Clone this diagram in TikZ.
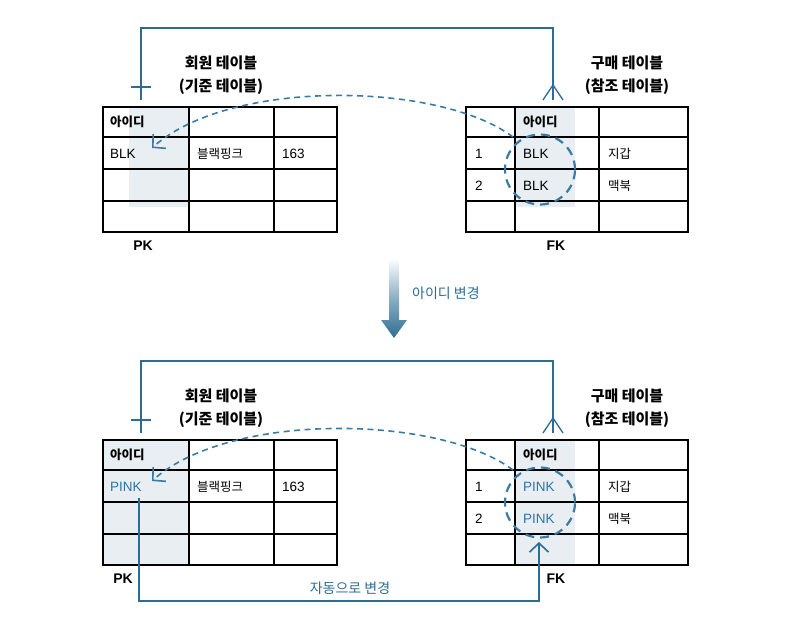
\documentclass[tikz,border=0pt]{standalone}
\usepackage{fontspec}
\setmainfont{Liberation Sans}
\newfontfamily\kr{Noto Sans CJK KR}
\usetikzlibrary{arrows.meta}
\definecolor{conn}{HTML}{2E6D93}
\definecolor{dashc}{HTML}{3A7BA3}
\definecolor{shadec}{HTML}{E9EEF3}
\definecolor{idblue}{HTML}{2C74A6}
\tikzset{
  tbl/.style={line width=1.9pt, black},
  grid/.style={line width=1.3pt, black},
  conline/.style={line width=1.3pt, conn},
  dcurve/.style={line width=1.6pt, dashc, dash pattern=on 6pt off 4.5pt},
  dcirc/.style={line width=2.2pt, dashc, dash pattern=on 9pt off 6pt},
  cell/.style={anchor=west, inner sep=0pt, font=\fontsize{13.5}{15}\selectfont},
  krcell/.style={anchor=west, inner sep=0pt, font=\kr\fontsize{12.5}{14}\selectfont},
  krhead/.style={anchor=west, inner sep=0pt, font=\kr\bfseries\fontsize{12.5}{14}\selectfont},
  title/.style={inner sep=0pt, font=\kr\bfseries\fontsize{15}{17}\selectfont},
  keylab/.style={inner sep=0pt, font=\bfseries\fontsize{14}{16}\selectfont},
  note/.style={inner sep=0pt, text=conn, font=\kr\fontsize{14}{16}\selectfont},
  barb/.style={-{Straight Barb[length=9pt,width=19pt,line width=1.6pt]}},
}
% #1 id text, #2 shade left x, #3 shade bottom y, #4 id colour, #5 PK x
\newcommand\dbpanel[5]{%
  \fill[shadec] (#2,107) rectangle (189,#3);
  \fill[shadec] (515,107) rectangle (575,#3);
  % left table
  \draw[grid] (103,137) -- (337,137) (103,169) -- (337,169) (103,201) -- (337,201);
  \draw[grid] (189,107) -- (189,232) (274,107) -- (274,232);
  \draw[tbl] (103,107) rectangle (337,232);
  % right table
  \draw[grid] (466,137) -- (688,137) (466,169) -- (688,169) (466,201) -- (688,201);
  \draw[grid] (515,107) -- (515,232) (599,107) -- (599,232);
  \draw[tbl] (466,107) rectangle (688,232);
  % texts
  \node[krhead] (lid) at (110,122) {아이디};
  \node[cell, text=#4] (lval) at (110,153.5) {#1};
  \node[krcell] (lname) at (197,153.5) {블랙핑크};
  \node[cell] (lnum) at (282,153.5) {163};
  \node[krhead] (rid) at (523,122) {아이디};
  \node[cell] (r1) at (475,153.5) {1};
  \node[cell, text=#4] (rv1) at (523,153.5) {#1};
  \node[krcell] (rn1) at (608,153.5) {지갑};
  \node[cell] (r2) at (475,185.5) {2};
  \node[cell, text=#4] (rv2) at (523,185.5) {#1};
  \node[krcell] (rn2) at (608,185.5) {맥북};
  \node[title] (lt1) at (221,63) {회원 테이블};
  \node[title] (lt2) at (221,87) {(기준 테이블)};
  \node[title] (rt1) at (627,63) {구매 테이블};
  \node[title] (rt2) at (627,87) {(참조 테이블)};
  \node[keylab] (pk) at (#5,246) {PK};
  \node[keylab] (fk) at (556,246) {FK};
  % relation connector
  \coordinate (cl) at (141,100);
  \coordinate (cr) at (553,100);
  \coordinate (crow) at (553,85);
  \draw[conline] (cl) -- (141,28) -| (cr);
  \draw[conline] (131,87) -- (151,87);
  \draw[conline] (543,100) -- (crow) -- (563,100);
  % dashed reference curve
  \node[draw=dashc, dcirc, circle, minimum size=70pt, inner sep=0pt] (circ) at (540,169.5) {};
  \coordinate (ds) at (513,137);
  \coordinate (de) at (152,148);
  \draw[dcurve, barb] (ds) .. controls (440,82) and (230,78) .. (de);
}
\begin{document}
\begin{tikzpicture}[x=1pt,y=-1pt]
\useasboundingbox (0,0) rectangle (791,618);
\begin{scope}[name prefix=t-]
  \dbpanel{BLK}{129}{207}{black}{143}
\end{scope}
\begin{scope}[yshift=-333pt, name prefix=b-]
  \dbpanel{PINK}{103}{232}{idblue}{123}
  \coordinate (pa) at (139,165);
  \coordinate (pb) at (539,209);
  \draw[conline, barb] (pa) -- (139,268) -- (539,268) -- (pb);
  \node[note] (auto) at (350,255) {자동으로 변경};
\end{scope}
% middle arrow
\shade[top color=white, bottom color=conn, middle color=conn!55!white]
  (389,258) -- (399,258) -- (399,320) -- (407,320) -- (394,338) -- (381,320) -- (389,320) -- cycle;
\node[note, anchor=west] (chg) at (412,293) {아이디 변경};
\end{tikzpicture}
\end{document}
